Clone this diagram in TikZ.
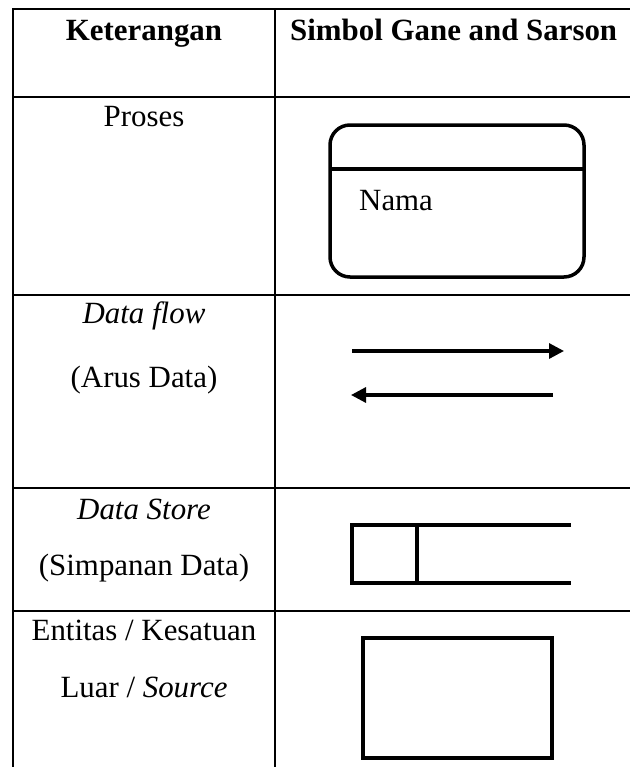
\documentclass[tikz,border=0pt]{standalone}
\usepackage{fontspec}
\setmainfont{Liberation Serif}
\usetikzlibrary{arrows.meta}

\begin{document}
\begin{tikzpicture}[x=1bp, y=-1bp]
\def\xl{13}    % left border
\def\xm{275}   % column divider
\def\xr{630}   % table runs on past the right edge
\def\xc{144}   % centre of first column
\tikzset{
  tabline/.style={line width=2.6bp, black},
  sym/.style={line width=3.5bp, black},
  txt/.style={font=\fontsize{31}{37}\selectfont, anchor=base, inner sep=0pt},
  head/.style={txt, font=\fontsize{31}{37}\selectfont\bfseries},
  flow/.style={sym, line width=3.2bp, -{Triangle[length=15bp,width=15bp]}},
}
\useasboundingbox (0,0) rectangle (630,767);

% ---- table rules ----
\draw[tabline] (\xr,9) -- (\xl,9) -- (\xl,767);
\draw[tabline] (\xm,9) -- (\xm,767);
\foreach \y in {97,295,488,611}{
  \draw[tabline] (\xl,\y) -- (\xr,\y);
}

% =====================================================================
% Header
% =====================================================================
\node[head] (hket) at (\xc,41) {Keterangan};
\node[head, anchor=base west] (hsim) at (290,41) {Simbol Gane and Sarson};

% =====================================================================
% Proses
% =====================================================================
\node[txt] (tproses) at (\xc,126) {Proses};
\draw[sym, rounded corners=20bp] (330,125) rectangle (584,277);
\draw[sym] (330,169) -- (584,169);
\node[txt, anchor=base west] (tnama) at (359,210) {Nama};

% =====================================================================
% Data flow
% =====================================================================
\node[txt] (tflow) at (\xc,323) {\textit{Data flow}};
\node[txt] (tarus) at (\xc,387) {(Arus Data)};
\coordinate (f1a) at (352,351);
\coordinate (f1b) at (564,351);
\coordinate (f2a) at (553,395);
\coordinate (f2b) at (351,395);
\draw[flow] (f1a) -- (f1b);
\draw[flow] (f2a) -- (f2b);

% =====================================================================
% Data store
% =====================================================================
\node[txt] (tstore) at (\xc,519) {\textit{Data Store}};
\node[txt] (tsimpan) at (\xc,575) {(Simpanan Data)};
\draw[sym] (571,525) -- (352,525) -- (352,583) -- (571,583);
\draw[sym] (417,525) -- (417,583);

% =====================================================================
% Entitas
% =====================================================================
\node[txt] (tent) at (\xc,640) {Entitas / Kesatuan};
\node[txt] (tluar) at (\xc,697) {Luar / \textit{Source}};
\draw[sym] (363,638) rectangle (552,758);

\end{tikzpicture}
\end{document}
